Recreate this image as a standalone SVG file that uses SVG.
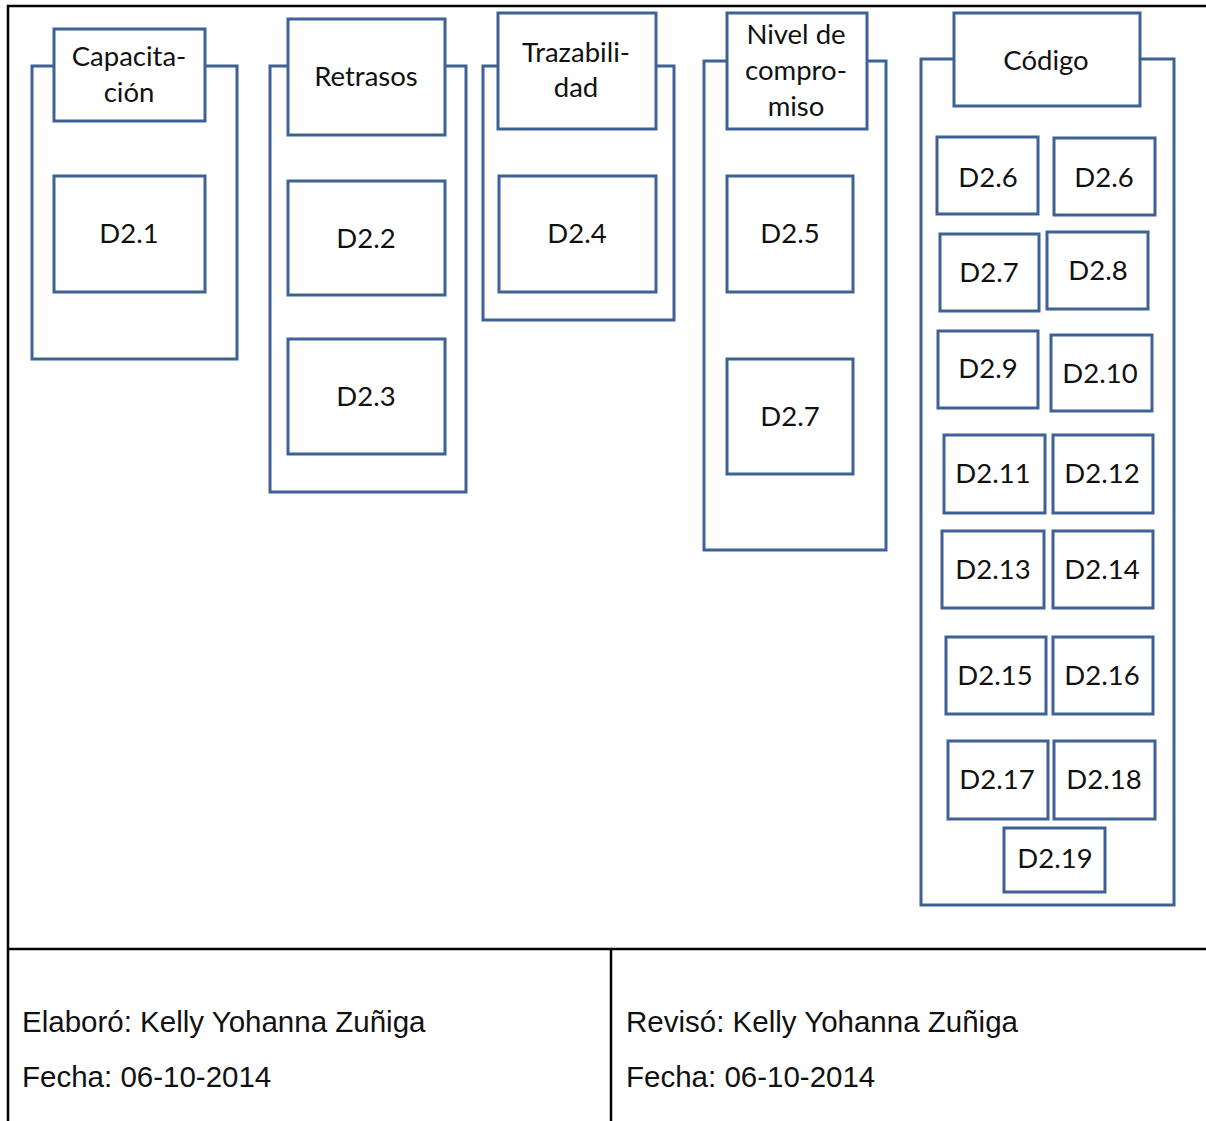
<svg xmlns="http://www.w3.org/2000/svg" width="1206" height="1121" viewBox="0 0 1206 1121">
  <style>
    .grp { fill: none; stroke: #3E6293; stroke-width: 3; }
    .box { fill: #ffffff; stroke: #3E6293; stroke-width: 3; }
    .lbl { font-family: Lato, "Open Sans", sans-serif; font-size: 27.5px; fill: #111111; text-anchor: middle; }
    .frame { fill: none; stroke: #000000; stroke-width: 2.5; }
    .foot { font-family: "Liberation Sans", Arial, sans-serif; font-size: 29.5px; fill: #111111; }
  </style>
  <rect width="1206" height="1121" fill="#ffffff"/>

  <!-- page frame and footer cells -->
  <g id="frame">
    <path class="frame" d="M8,1121 V6 H1206"/>
    <line class="frame" x1="8" y1="949" x2="1206" y2="949"/>
    <line class="frame" x1="611" y1="949" x2="611" y2="1121"/>
  </g>

  <!-- Capacitación -->
  <g id="capacitacion">
    <rect class="grp" x="32" y="66" width="205" height="293"/>
    <rect class="box" x="54" y="29" width="151" height="92"/>
    <text class="lbl" x="129" y="66">Capacita-</text>
    <text class="lbl" x="129" y="102">ción</text>
  </g>
  <g id="d2-1">
    <rect class="box" x="54" y="176" width="151" height="116"/>
    <text class="lbl" x="129" y="243">D2.1</text>
  </g>

  <!-- Retrasos -->
  <g id="retrasos">
    <rect class="grp" x="270" y="66" width="196" height="426"/>
    <rect class="box" x="288" y="19" width="157" height="116"/>
    <text class="lbl" x="366" y="86">Retrasos</text>
  </g>
  <g id="d2-2">
    <rect class="box" x="288" y="181" width="157" height="114"/>
    <text class="lbl" x="366" y="248">D2.2</text>
  </g>
  <g id="d2-3">
    <rect class="box" x="288" y="339" width="157" height="115"/>
    <text class="lbl" x="366" y="406">D2.3</text>
  </g>

  <!-- Trazabilidad -->
  <g id="trazabilidad">
    <rect class="grp" x="483" y="66" width="191" height="254"/>
    <rect class="box" x="498" y="13" width="158" height="116"/>
    <text class="lbl" x="576" y="62">Trazabili-</text>
    <text class="lbl" x="576" y="97">dad</text>
  </g>
  <g id="d2-4">
    <rect class="box" x="499" y="176" width="157" height="116"/>
    <text class="lbl" x="577" y="243">D2.4</text>
  </g>

  <!-- Nivel de compromiso -->
  <g id="nivel-compromiso">
    <rect class="grp" x="704" y="61" width="182" height="489"/>
    <rect class="box" x="727" y="13" width="140" height="116"/>
    <text class="lbl" x="796" y="44">Nivel de</text>
    <text class="lbl" x="796" y="80">compro-</text>
    <text class="lbl" x="796" y="116">miso</text>
  </g>
  <g id="d2-5">
    <rect class="box" x="727" y="176" width="126" height="116"/>
    <text class="lbl" x="790" y="243">D2.5</text>
  </g>
  <g id="d2-7a">
    <rect class="box" x="727" y="359" width="126" height="115"/>
    <text class="lbl" x="790" y="426">D2.7</text>
  </g>

  <!-- Código -->
  <g id="codigo">
    <rect class="grp" x="921" y="59" width="253" height="846"/>
    <rect class="box" x="954" y="13" width="186" height="93"/>
    <text class="lbl" x="1046" y="70">Código</text>
  </g>
  <g id="d2-6a"><rect class="box" x="937" y="137" width="101" height="77"/><text class="lbl" x="988" y="187">D2.6</text></g>
  <g id="d2-6b"><rect class="box" x="1054" y="138" width="101" height="77"/><text class="lbl" x="1104" y="187">D2.6</text></g>
  <g id="d2-7b"><rect class="box" x="940" y="234" width="99" height="77"/><text class="lbl" x="989" y="282">D2.7</text></g>
  <g id="d2-8"><rect class="box" x="1047" y="232" width="101" height="77"/><text class="lbl" x="1098" y="280">D2.8</text></g>
  <g id="d2-9"><rect class="box" x="938" y="331" width="100" height="77"/><text class="lbl" x="988" y="378">D2.9</text></g>
  <g id="d2-10"><rect class="box" x="1051" y="335" width="101" height="76"/><text class="lbl" x="1100" y="383">D2.10</text></g>
  <g id="d2-11"><rect class="box" x="944" y="435" width="101" height="78"/><text class="lbl" x="993" y="483">D2.11</text></g>
  <g id="d2-12"><rect class="box" x="1053" y="435" width="100" height="78"/><text class="lbl" x="1102" y="483">D2.12</text></g>
  <g id="d2-13"><rect class="box" x="942" y="531" width="102" height="77"/><text class="lbl" x="993" y="579">D2.13</text></g>
  <g id="d2-14"><rect class="box" x="1053" y="531" width="100" height="77"/><text class="lbl" x="1102" y="579">D2.14</text></g>
  <g id="d2-15"><rect class="box" x="946" y="637" width="100" height="77"/><text class="lbl" x="995" y="685">D2.15</text></g>
  <g id="d2-16"><rect class="box" x="1053" y="637" width="100" height="77"/><text class="lbl" x="1102" y="685">D2.16</text></g>
  <g id="d2-17"><rect class="box" x="948" y="741" width="100" height="78"/><text class="lbl" x="997" y="789">D2.17</text></g>
  <g id="d2-18"><rect class="box" x="1054" y="741" width="101" height="78"/><text class="lbl" x="1104" y="789">D2.18</text></g>
  <g id="d2-19"><rect class="box" x="1004" y="828" width="101" height="64"/><text class="lbl" x="1055" y="868">D2.19</text></g>

  <!-- no connectors between nodes -->
  <g id="connectors"/>

  <!-- footer -->
  <g id="footer">
    <text class="foot" x="22" y="1032">Elaboró: Kelly Yohanna Zuñiga</text>
    <text class="foot" x="22" y="1087">Fecha: 06-10-2014</text>
    <text class="foot" x="626" y="1032">Revisó: Kelly Yohanna Zuñiga</text>
    <text class="foot" x="626" y="1087">Fecha: 06-10-2014</text>
  </g>
</svg>
